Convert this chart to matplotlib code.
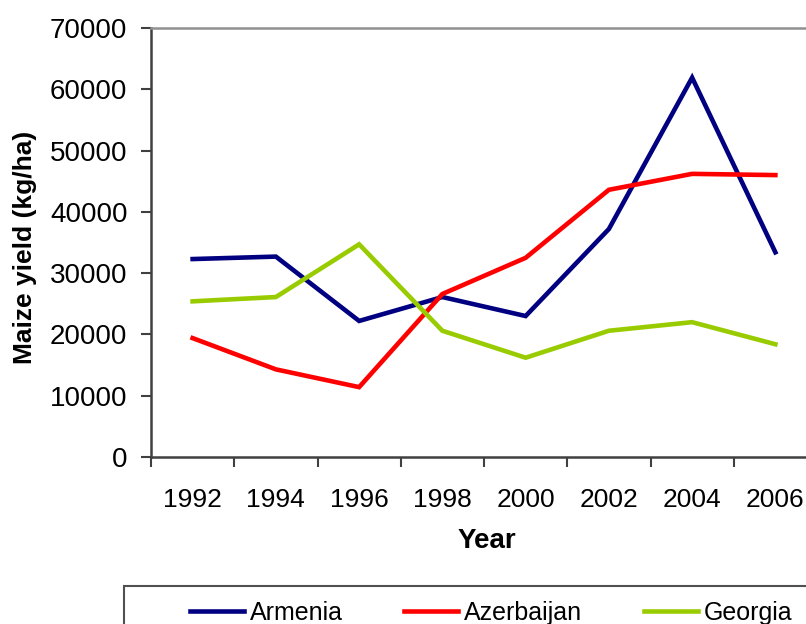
import matplotlib
matplotlib.use("Agg")
import matplotlib.pyplot as plt
from matplotlib.patches import Rectangle
import numpy as np

plt.rcParams['font.family'] = ['Liberation Sans', 'DejaVu Sans']

years = ["1992", "1994", "1996", "1998", "2000", "2002", "2004", "2006"]
armenia = [32300, 32700, 22200, 26100, 23000, 37200, 61900, 33400]
azerbaijan = [19400, 14300, 11400, 26600, 32500, 43600, 46200, 46000]
georgia = [25400, 26100, 34700, 20600, 16200, 20600, 22000, 18400]

W, H = 806, 624
fig = plt.figure(figsize=(W / 100, H / 100), dpi=100)
fig.patch.set_facecolor("white")

x0, x1, y_top, y_bot = 151, 817, 28, 457
ax = fig.add_axes([x0 / W, 1 - y_bot / H, (x1 - x0) / W, (y_bot - y_top) / H])

pos = np.arange(len(years)) + 0.5
ax.plot(pos, armenia, color="#000080", lw=3.3, label="Armenia", solid_joinstyle="miter")
ax.plot(pos, azerbaijan, color="#FF0000", lw=3.3, label="Azerbaijan", solid_joinstyle="miter")
ax.plot(pos, georgia, color="#99CC00", lw=3.3, label="Georgia", solid_joinstyle="miter")

ax.set_xlim(0, len(years))
ax.set_ylim(0, 70000)
ax.set_yticks(np.arange(0, 70001, 10000))
ax.set_xticks(np.arange(0, len(years) + 1))
ax.set_xticklabels([])
ax.set_xticks(pos, minor=True)
ax.set_xticklabels(years, minor=True)
ax.tick_params(axis="x", which="minor", length=0, pad=22, labelsize=19)
ax.tick_params(axis="x", which="major", direction="out", length=7, width=1.5, color="#404040")
ax.tick_params(axis="y", direction="out", length=7, width=1.5, color="#404040", pad=10, labelsize=20)

for side in ["left", "bottom"]:
    ax.spines[side].set_color("#404040")
    ax.spines[side].set_linewidth(1.8)
ax.spines["top"].set_color("#909090")
ax.spines["top"].set_linewidth(1.8)
ax.spines["right"].set_visible(False)

ax.set_xlabel("Year", fontsize=20, fontweight="bold")
ax.xaxis.set_label_coords((487 - x0) / (x1 - x0), -(528 - y_bot) / (y_bot - y_top))
ax.set_ylabel("Maize yield (kg/ha)", fontsize=19, fontweight="bold")
ax.yaxis.label.set_va("center")
ax.yaxis.set_label_coords(-(x0 - 25) / (x1 - x0), (y_bot - 247) / (y_bot - y_top))

# legend frame spanning below the plot
fig.patches.append(Rectangle((124 / W, 0 - 0.05), (880 - 124) / W, 1 - 586 / H + 0.05,
                             transform=fig.transFigure, facecolor="white",
                             edgecolor="#505050", lw=1.5))
handles, labels = ax.get_legend_handles_labels()
fig.legend(handles, labels, loc="upper left", bbox_to_anchor=(190 / W, 1 - 601 / H),
           ncol=3, frameon=False, fontsize=18, handlelength=2.16, handletextpad=0.24,
           columnspacing=2.45, borderpad=0, borderaxespad=0)

fig.savefig("out.png", dpi=100)
